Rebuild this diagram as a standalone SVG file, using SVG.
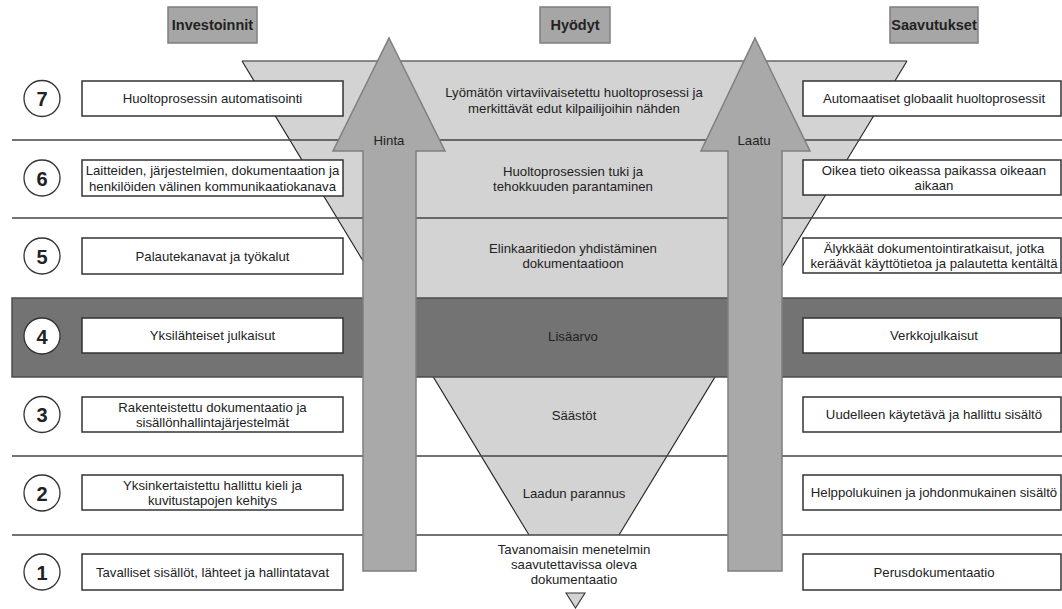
<svg xmlns="http://www.w3.org/2000/svg" width="1062" height="609" viewBox="0 0 1062 609">
<style>
text{font-family:"Liberation Sans",Arial,sans-serif;fill:#222;text-anchor:middle;dominant-baseline:central}
.t{font-size:13.2px}
.h{font-size:14.5px;font-weight:bold}
.n{font-size:20px;font-weight:bold}
.hdr{fill:#a6a6a6;stroke:#7f7f7f;stroke-width:1.5}
.box{fill:#fff;stroke:#333;stroke-width:1.5}
.circ{fill:#fff;stroke:#333;stroke-width:1.3}
.div{stroke:#444;stroke-width:1.5;fill:none}
.arr{fill:#a9a9a9;stroke:#7f7f7f;stroke-width:1.5}
.fun{fill:#d3d3d3;stroke:none}
.edge{stroke:#222;stroke-width:1.1;fill:none}
</style>
<rect width="1062" height="609" fill="#fff"/>

<g id="funnel">
<polygon class="fun" points="242,61 907,61 619,535 529,535"/>
<line x1="242" y1="61" x2="907" y2="61" stroke="#666" stroke-width="1.3"/>
<line class="edge" x1="242" y1="61" x2="529" y2="535"/>
<line class="edge" x1="907" y1="61" x2="619" y2="535"/>
</g>

<g id="dividers">
<line class="div" x1="12" y1="140" x2="1062" y2="140"/>
<line class="div" x1="12" y1="218" x2="1062" y2="218"/>
<line class="div" x1="12" y1="456" x2="1062" y2="456"/>
<line class="div" x1="12" y1="535" x2="1062" y2="535"/>
</g>

<g id="band4">
<rect x="12" y="298" width="1056" height="79" fill="#737373" stroke="#4d4d4d" stroke-width="1.5"/>
</g>

<g id="connectors">
<g id="arrow-hinta">
<polygon class="arr" points="389,38 445,151 416,151 416,571 363,571 363,151 333,151"/>
<text class="t" x="389" y="140">Hinta</text>
</g>
<g id="arrow-laatu">
<polygon class="arr" points="755,38 810,151 782,151 782,571 728,571 728,151 701,151"/>
<text class="t" x="754" y="140">Laatu</text>
</g>
</g>

<g id="headers">
<g id="hdr-investoinnit"><rect class="hdr" x="168" y="7" width="89" height="36"/><text class="h" x="212.5" y="25">Investoinnit</text></g>
<g id="hdr-hyodyt"><rect class="hdr" x="540" y="7" width="70" height="36"/><text class="h" x="575" y="25">Hyödyt</text></g>
<g id="hdr-saavutukset"><rect class="hdr" x="890" y="7" width="88" height="36"/><text class="h" x="934" y="25">Saavutukset</text></g>
</g>

<g id="benefits">
<g id="b7"><text class="t" x="574" y="92">Lyömätön virtaviivaisetettu huoltoprosessi ja</text><text class="t" x="574" y="108">merkittävät edut kilpailijoihin nähden</text></g>
<g id="b6"><text class="t" x="573" y="171">Huoltoprosessien tuki ja</text><text class="t" x="573" y="186">tehokkuuden parantaminen</text></g>
<g id="b5"><text class="t" x="573" y="248">Elinkaaritiedon yhdistäminen</text><text class="t" x="573" y="263">dokumentaatioon</text></g>
<g id="b4"><text class="t" x="573" y="336">Lisäarvo</text></g>
<g id="b3"><text class="t" x="574" y="415">Säästöt</text></g>
<g id="b2"><text class="t" x="574" y="493">Laadun parannus</text></g>
<g id="b1"><text class="t" x="574" y="549">Tavanomaisin menetelmin</text><text class="t" x="574" y="564">saavutettavissa oleva</text><text class="t" x="574" y="579">dokumentaatio</text>
<polygon points="566,593 585,593 575.5,608" fill="#d3d3d3" stroke="#333" stroke-width="1.1"/></g>
</g>

<g id="levels">
<g id="lvl7"><circle class="circ" cx="42" cy="98.5" r="18"/><text class="n" x="42" y="99">7</text></g>
<g id="lvl6"><circle class="circ" cx="42" cy="178" r="18"/><text class="n" x="42" y="178.5">6</text></g>
<g id="lvl5"><circle class="circ" cx="42" cy="256" r="18"/><text class="n" x="42" y="256.5">5</text></g>
<g id="lvl4"><circle class="circ" cx="42" cy="336" r="18"/><text class="n" x="42" y="336.5">4</text></g>
<g id="lvl3"><circle class="circ" cx="42" cy="414.5" r="18"/><text class="n" x="42" y="415">3</text></g>
<g id="lvl2"><circle class="circ" cx="42" cy="493" r="18"/><text class="n" x="42" y="493.5">2</text></g>
<g id="lvl1"><circle class="circ" cx="42" cy="572" r="18"/><text class="n" x="42" y="572.5">1</text></g>
</g>

<g id="investments">
<g id="inv7"><rect class="box" x="82" y="81" width="261" height="35"/><text class="t" x="212.5" y="98.5">Huoltoprosessin automatisointi</text></g>
<g id="inv6"><rect class="box" x="82" y="160" width="261" height="36"/><text class="t" x="212.5" y="170.5">Laitteiden, järjestelmien, dokumentaation ja</text><text class="t" x="212.5" y="186">henkilöiden välinen kommunikaatiokanava</text></g>
<g id="inv5"><rect class="box" x="82" y="238" width="261" height="36"/><text class="t" x="212.5" y="256">Palautekanavat ja työkalut</text></g>
<g id="inv4"><rect class="box" x="82" y="318" width="261" height="35"/><text class="t" x="212.5" y="335.5">Yksilähteiset julkaisut</text></g>
<g id="inv3"><rect class="box" x="82" y="397" width="261" height="35"/><text class="t" x="212.5" y="407">Rakenteistettu dokumentaatio ja</text><text class="t" x="212.5" y="422.5">sisällönhallintajärjestelmät</text></g>
<g id="inv2"><rect class="box" x="82" y="475" width="261" height="35"/><text class="t" x="212.5" y="485">Yksinkertaistettu hallittu kieli ja</text><text class="t" x="212.5" y="500.5">kuvitustapojen kehitys</text></g>
<g id="inv1"><rect class="box" x="82" y="554" width="261" height="36"/><text class="t" x="212.5" y="572">Tavalliset sisällöt, lähteet ja hallintatavat</text></g>
</g>

<g id="achievements">
<g id="ach7"><rect class="box" x="803" y="81" width="258" height="35"/><text class="t" x="934" y="98.5">Automaatiset globaalit huoltoprosessit</text></g>
<g id="ach6"><rect class="box" x="803" y="160" width="258" height="35"/><text class="t" x="934" y="170">Oikea tieto oikeassa paikassa oikeaan</text><text class="t" x="934" y="185.5">aikaan</text></g>
<g id="ach5"><rect class="box" x="803" y="238" width="258" height="35"/><text class="t" x="934" y="248">Älykkäät dokumentointiratkaisut, jotka</text><text class="t" x="934" y="263.5">keräävät käyttötietoa ja palautetta kentältä</text></g>
<g id="ach4"><rect class="box" x="803" y="318" width="258" height="35"/><text class="t" x="934" y="335.5">Verkkojulkaisut</text></g>
<g id="ach3"><rect class="box" x="803" y="397" width="258" height="35"/><text class="t" x="934" y="414.5">Uudelleen käytetävä ja hallittu sisältö</text></g>
<g id="ach2"><rect class="box" x="803" y="475" width="258" height="35"/><text class="t" x="934" y="492.5">Helppolukuinen ja johdonmukainen sisältö</text></g>
<g id="ach1"><rect class="box" x="803" y="554" width="258" height="36"/><text class="t" x="934" y="572">Perusdokumentaatio</text></g>
</g>
</svg>
